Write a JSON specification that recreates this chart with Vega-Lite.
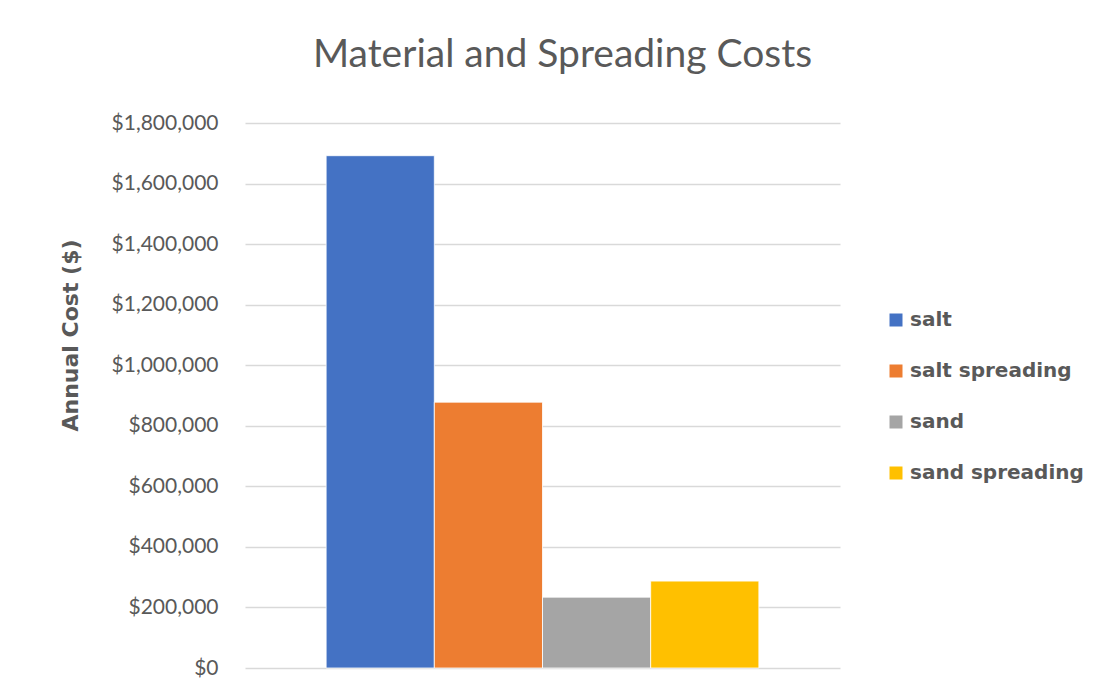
{
  "$schema": "https://vega.github.io/schema/vega-lite/v6.json",
  "autosize": "none",
  "width": 595,
  "height": 545,
  "padding": {"left": 245, "top": 123, "right": 263, "bottom": 30},
  "background": "white",
  "title": {
    "text": "Material and Spreading Costs",
    "font": "Lato",
    "fontSize": 39,
    "fontWeight": "normal",
    "color": "#595959",
    "anchor": "middle",
    "dx": 20,
    "offset": 37
  },
  "data": {
    "values": [
      {"series": "salt", "cost": 1692000},
      {"series": "salt spreading", "cost": 878000},
      {"series": "sand", "cost": 234000},
      {"series": "sand spreading", "cost": 287000}
    ]
  },
  "mark": {"type": "bar", "stroke": "white", "strokeWidth": 0.8},
  "encoding": {
    "x": {
      "field": "series",
      "type": "nominal",
      "sort": null,
      "scale": {"paddingInner": 0, "paddingOuter": 0.75},
      "axis": null
    },
    "y": {
      "field": "cost",
      "type": "quantitative",
      "scale": {"domain": [0, 1800000], "nice": false},
      "axis": {
        "title": "Annual Cost ($)",
        "values": [0, 200000, 400000, 600000, 800000, 1000000, 1200000, 1400000, 1600000, 1800000],
        "format": "$,.0f",
        "labelFont": "Lato",
        "labelFontSize": 21,
        "labelColor": "#595959",
        "labelPadding": 27,
        "titleFont": "DejaVu Sans",
        "titleFontSize": 22,
        "titleFontWeight": "bold",
        "titleColor": "#595959",
        "titlePadding": 29,
        "titleY": 212,
        "ticks": false,
        "domain": false,
        "grid": true,
        "gridColor": "#d9d9d9",
        "gridWidth": 1.5
      }
    },
    "color": {
      "field": "series",
      "type": "nominal",
      "sort": null,
      "scale": {
        "domain": ["salt", "salt spreading", "sand", "sand spreading"],
        "range": ["#4472c4", "#ed7d31", "#a5a5a5", "#ffc000"]
      },
      "legend": {
        "title": null,
        "orient": "none",
        "legendX": 641,
        "legendY": 187,
        "symbolType": "square",
        "symbolSize": 169,
        "symbolStrokeWidth": 0,
        "labelFont": "DejaVu Sans",
        "labelFontSize": 20,
        "labelFontWeight": "bold",
        "labelColor": "#595959",
        "labelOffset": 4,
        "labelLimit": 300,
        "rowPadding": 31
      }
    }
  },
  "config": {
    "view": {"stroke": null}
  }
}
